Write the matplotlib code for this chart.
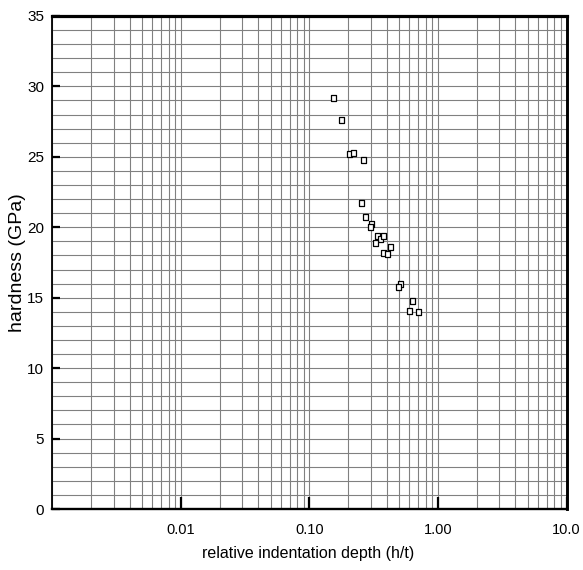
import matplotlib
matplotlib.use("Agg")
import matplotlib.pyplot as plt
from matplotlib.ticker import FixedLocator, LogLocator, MultipleLocator, NullFormatter
import numpy as np

# relative indentation depth h/t and measured hardness (GPa)
depth = [0.152, 0.175, 0.202, 0.217, 0.262,
         0.250, 0.270, 0.301, 0.294, 0.337, 0.352, 0.375, 0.325,
         0.423, 0.375, 0.401, 0.504, 0.486, 0.628, 0.598, 0.699]
hardness = [29.2, 27.6, 25.2, 25.3, 24.8,
            21.7, 20.75, 20.2, 20.0, 19.35, 19.2, 19.4, 18.9,
            18.6, 18.2, 18.1, 15.95, 15.75, 14.75, 14.05, 13.95]

x_ticks = [0.01, 0.1, 1.0, 10.0]
x_tick_labels = ["0.01", "0.10", "1.00", "10.0"]
y_ticks = [0, 5, 10, 15, 20, 25, 30, 35]

font = ["Liberation Sans", "DejaVu Sans"]

fig = plt.figure(figsize=(5.83, 5.70), dpi=100)
ax = fig.add_axes([0.090, 0.107, 0.8817, 0.865])

# tall open rectangle marker
rect = [(-0.36, -0.5), (0.36, -0.5), (0.36, 0.5), (-0.36, 0.5), (-0.36, -0.5)]
ax.plot(depth, hardness, linestyle="none", marker=rect, markersize=5.0,
        markerfacecolor="white", markeredgecolor="black", markeredgewidth=0.9,
        zorder=5)

ax.set_xscale("log")
ax.set_xlim(0.001, 10)
ax.set_ylim(0, 35)

ax.xaxis.set_major_locator(FixedLocator(x_ticks))
ax.set_xticklabels(x_tick_labels, family=font, fontsize=10.5)
ax.xaxis.set_minor_locator(LogLocator(base=10, subs=np.arange(1, 10), numticks=20))
ax.xaxis.set_minor_formatter(NullFormatter())

ax.yaxis.set_major_locator(FixedLocator(y_ticks))
ax.set_yticklabels([str(v) for v in y_ticks], family=font, fontsize=11)
ax.yaxis.set_minor_locator(MultipleLocator(1))

ax.grid(which="both", axis="both", color="#808080", linewidth=0.8)
ax.set_axisbelow(True)

ax.tick_params(axis="x", which="major", direction="in", length=9, width=1.6,
               color="black", pad=10, top=False)
ax.tick_params(axis="y", which="major", direction="in", length=6, width=1.6,
               color="black", pad=6, right=False)
ax.tick_params(which="minor", length=0)

ax.spines["left"].set_linewidth(1.3)
ax.spines["bottom"].set_linewidth(1.7)
ax.spines["top"].set_linewidth(2.3)
ax.spines["right"].set_linewidth(2.1)

ax.set_xlabel("relative indentation depth (h/t)", family=font, fontsize=11.5)
ax.xaxis.set_label_coords(0.497, -0.076)
ax.set_ylabel("hardness (GPa)", family=font, fontsize=14)
ax.yaxis.set_label_coords(-0.052, 0.5)

fig.savefig("out.png", dpi=100)
